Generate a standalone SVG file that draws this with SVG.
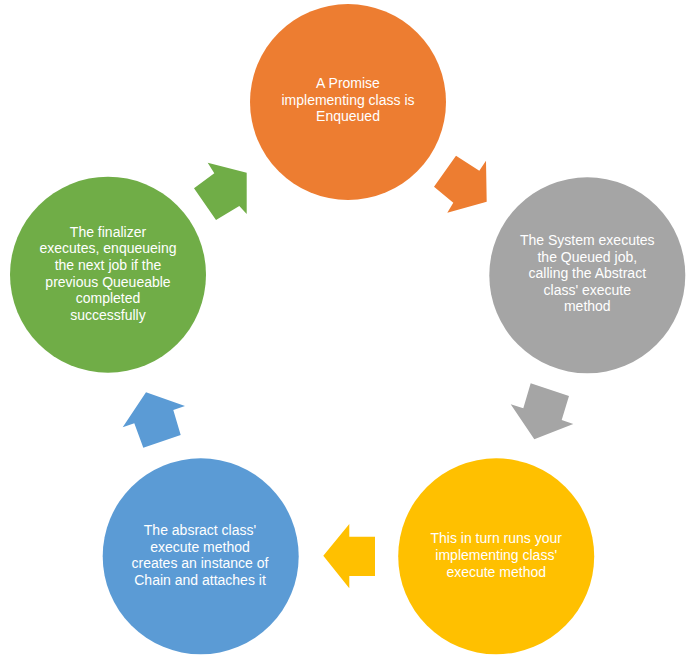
<svg xmlns="http://www.w3.org/2000/svg" width="700" height="664" viewBox="0 0 700 664">
<style>
.t{font-family:"Liberation Sans",Arial,sans-serif;font-size:14px;fill:#ffffff;text-anchor:middle}
</style>
<rect width="700" height="664" fill="#ffffff"/>
<g id="connectors">
<polygon id="arrow-orange" fill="#ED7D31" points="486.7,201.7 486,160.7 479.3,170.7 456,155.7 434,186.7 453.3,202.7 447.3,212.7"/>
<polygon id="arrow-gray" fill="#A5A5A5" points="534.3,439.3 573.3,424 561.7,420 569,396 530.7,383.3 523.3,408.3 510.7,404.3"/>
<polygon id="arrow-yellow" fill="#FFC000" points="323.3,555.7 349.3,524 349.3,536.7 375,536.7 375,576 349.3,576 349.3,588.3"/>
<polygon id="arrow-blue" fill="#5B9BD5" points="146,392.3 185,406 173.3,410 180.7,435 143.3,447.7 134.3,423.3 122.7,427.3"/>
<polygon id="arrow-green" fill="#70AD47" points="246.7,172.7 207.7,162.7 214.3,173.3 194,188.3 216,220 239.3,206 246.7,214"/>
</g>
<g id="node-enqueue">
<circle cx="348" cy="102" r="98" fill="#ED7D31"/>
<text class="t" x="348" y="88">A Promise</text>
<text class="t" x="348" y="104.6">implementing class is</text>
<text class="t" x="348" y="121.2">Enqueued</text>
</g>
<g id="node-system">
<circle cx="587.3" cy="275.3" r="98" fill="#A5A5A5"/>
<text class="t" x="587.3" y="245">The System executes</text>
<text class="t" x="587.3" y="261.6">the Queued job,</text>
<text class="t" x="587.3" y="278.2">calling the Abstract</text>
<text class="t" x="587.3" y="294.8">class' execute</text>
<text class="t" x="587.3" y="311.4">method</text>
</g>
<g id="node-runs">
<circle cx="496.2" cy="556.3" r="98" fill="#FFC000"/>
<text class="t" x="496.2" y="543.3">This in turn runs your</text>
<text class="t" x="496.2" y="559.9">implementing class'</text>
<text class="t" x="496.2" y="576.5">execute method</text>
</g>
<g id="node-abstract">
<circle cx="200.7" cy="556.3" r="98" fill="#5B9BD5"/>
<text class="t" x="200" y="535">The absract class'</text>
<text class="t" x="200" y="551.6">execute method</text>
<text class="t" x="200" y="568.2">creates an instance of</text>
<text class="t" x="200" y="584.8">Chain and attaches it</text>
</g>
<g id="node-finalizer">
<circle cx="108" cy="274.7" r="98" fill="#70AD47"/>
<text class="t" x="108" y="236.7">The finalizer</text>
<text class="t" x="108" y="253.3">executes, enqueueing</text>
<text class="t" x="108" y="269.9">the next job if the</text>
<text class="t" x="108" y="286.5">previous Queueable</text>
<text class="t" x="108" y="303.1">completed</text>
<text class="t" x="108" y="319.7">successfully</text>
</g>
</svg>
